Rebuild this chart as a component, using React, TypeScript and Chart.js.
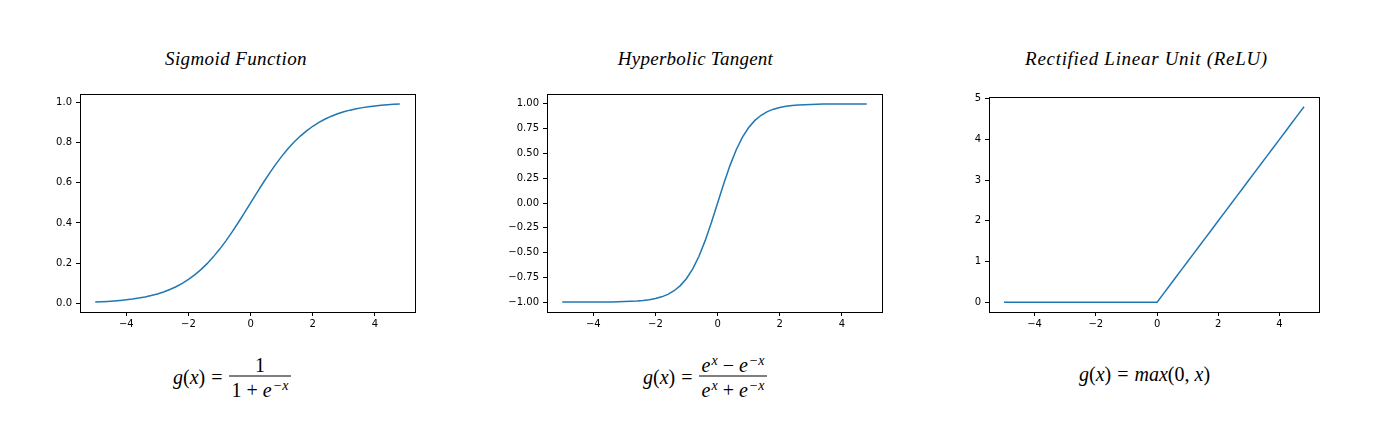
import React, { useEffect, useRef } from "react";
import { Chart, registerables } from "chart.js";

Chart.register(...registerables);

// ---------- data ----------
const xValues = [
  -5.0, -4.8, -4.6, -4.4, -4.2, -4.0, -3.8, -3.6, -3.4, -3.2,
  -3.0, -2.8, -2.6, -2.4, -2.2, -2.0, -1.8, -1.6, -1.4, -1.2,
  -1.0, -0.8, -0.6, -0.4, -0.2, 0.0, 0.2, 0.4, 0.6, 0.8,
  1.0, 1.2, 1.4, 1.6, 1.8, 2.0, 2.2, 2.4, 2.6, 2.8,
  3.0, 3.2, 3.4, 3.6, 3.8, 4.0, 4.2, 4.4, 4.6, 4.8,
];

const sigmoidValues = [
  0.00669, 0.00816, 0.00995, 0.01213, 0.01477, 0.01799, 0.02188, 0.0266, 0.0323, 0.03917,
  0.04743, 0.05732, 0.06914, 0.08317, 0.09975, 0.1192, 0.14185, 0.16798, 0.19782, 0.23148,
  0.26894, 0.31003, 0.35434, 0.40131, 0.45017, 0.5, 0.54983, 0.59869, 0.64566, 0.68997,
  0.73106, 0.76852, 0.80218, 0.83202, 0.85815, 0.8808, 0.90025, 0.91683, 0.93086, 0.94268,
  0.95257, 0.96083, 0.9677, 0.9734, 0.97812, 0.98201, 0.98523, 0.98787, 0.99005, 0.99184,
];

const tanhValues = [
  -0.99991, -0.99986, -0.9998, -0.9997, -0.99955, -0.99933, -0.999, -0.99851, -0.99777, -0.99668,
  -0.99505, -0.99263, -0.98903, -0.98367, -0.97574, -0.96403, -0.94681, -0.92167, -0.88535, -0.83365,
  -0.76159, -0.66404, -0.53705, -0.37995, -0.19738, 0.0, 0.19738, 0.37995, 0.53705, 0.66404,
  0.76159, 0.83365, 0.88535, 0.92167, 0.94681, 0.96403, 0.97574, 0.98367, 0.98903, 0.99263,
  0.99505, 0.99668, 0.99777, 0.99851, 0.999, 0.99933, 0.99955, 0.9997, 0.9998, 0.99986,
];

const reluValues = [
  0, 0, 0, 0, 0, 0, 0, 0, 0, 0,
  0, 0, 0, 0, 0, 0, 0, 0, 0, 0,
  0, 0, 0, 0, 0, 0, 0.2, 0.4, 0.6, 0.8,
  1.0, 1.2, 1.4, 1.6, 1.8, 2.0, 2.2, 2.4, 2.6, 2.8,
  3.0, 3.2, 3.4, 3.6, 3.8, 4.0, 4.2, 4.4, 4.6, 4.8,
];

const xTicks = [-4, -2, 0, 2, 4];
const sigmoidTicks = [0, 0.2, 0.4, 0.6, 0.8, 1.0];
const tanhTicks = [-1, -0.75, -0.5, -0.25, 0, 0.25, 0.5, 0.75, 1.0];
const reluTicks = [0, 1, 2, 3, 4, 5];

const titles = ["Sigmoid Function", "Hyperbolic Tangent", "Rectified Linear Unit (ReLU)"];

const LINE_COLOR = "#1f77b4";
const X_MIN = -5.49;
const X_MAX = 5.29;

const framePlugin = {
  id: "frame",
  afterDraw(chart: any) {
    const { ctx, chartArea } = chart;
    const { left, top, right, bottom } = chartArea;
    ctx.save();
    ctx.strokeStyle = "#000";
    ctx.lineWidth = 1;
    ctx.strokeRect(
      Math.round(left) + 0.5,
      Math.round(top) + 0.5,
      Math.round(right) - Math.round(left),
      Math.round(bottom) - Math.round(top)
    );
    ctx.restore();
  },
};

const fmt = (v: number, dec: number) => {
  let s = Number(v).toFixed(dec);
  if (Math.abs(v) < 1e-9) s = (0).toFixed(dec);
  return s.replace("-", "\u2212");
};

type PanelProps = {
  values: number[];
  yTicks: number[];
  yMin: number;
  yMax: number;
  dec: number;
  axLeft: number;
  axTop: number;
  axRight: number;
  axBottom: number;
};

const Y_AXIS_W = 60;
const X_AXIS_H = 30;
const PAD_TOP = 12;
const PAD_RIGHT = 12;

function Panel(p: PanelProps) {
  const ref = useRef<HTMLCanvasElement | null>(null);
  useEffect(() => {
    if (!ref.current) return;
    const data = xValues.map((x, i) => ({ x, y: p.values[i] }));
    const tickFont = { family: "'DejaVu Sans', sans-serif", size: 10 };
    const chart = new Chart(ref.current, {
      type: "line",
      data: {
        datasets: [
          {
            data,
            borderColor: LINE_COLOR,
            borderWidth: 1.5,
            pointRadius: 0,
            tension: 0,
            fill: false,
          },
        ],
      },
      options: {
        animation: false,
        responsive: true,
        maintainAspectRatio: false,
        layout: { padding: { top: PAD_TOP, right: PAD_RIGHT, left: 0, bottom: 0 } },
        plugins: { legend: { display: false }, tooltip: { enabled: false }, title: { display: false } },
        scales: {
          x: {
            type: "linear",
            min: X_MIN,
            max: X_MAX,
            afterBuildTicks: (scale: any) => {
              scale.ticks = xTicks.map((v) => ({ value: v }));
            },
            afterFit: (scale: any) => {
              scale.height = X_AXIS_H;
            },
            ticks: {
              font: tickFont,
              color: "#000",
              padding: 2,
              maxRotation: 0,
              autoSkip: false,
              callback: (v: any) => fmt(Number(v), 0),
            },
            grid: { drawOnChartArea: false, drawTicks: true, tickLength: 4, tickColor: "#000", lineWidth: 1 },
            border: { display: false },
          },
          y: {
            type: "linear",
            min: p.yMin,
            max: p.yMax,
            afterBuildTicks: (scale: any) => {
              scale.ticks = p.yTicks.map((v) => ({ value: v }));
            },
            afterFit: (scale: any) => {
              scale.width = Y_AXIS_W;
            },
            ticks: {
              font: tickFont,
              color: "#000",
              padding: 4,
              autoSkip: false,
              callback: (v: any) => fmt(Number(v), p.dec),
            },
            grid: { drawOnChartArea: false, drawTicks: true, tickLength: 4, tickColor: "#000", lineWidth: 1 },
            border: { display: false },
          },
        },
      },
      plugins: [framePlugin],
    } as any);
    return () => chart.destroy();
  }, []);

  const w = p.axRight - p.axLeft + Y_AXIS_W + PAD_RIGHT;
  const h = p.axBottom - p.axTop + PAD_TOP + X_AXIS_H;
  return (
    <div
      style={{
        position: "absolute",
        left: p.axLeft - Y_AXIS_W,
        top: p.axTop - PAD_TOP,
        width: w,
        height: h,
      }}
    >
      <canvas ref={ref} />
    </div>
  );
}

const mathFont = "'Liberation Serif', 'Times New Roman', serif";
const I = ({ children }: { children: any }) => <span style={{ fontStyle: "italic" }}>{children}</span>;
const Sup = ({ children }: { children: any }) => (
  <span style={{ fontSize: "0.7em", position: "relative", top: "-0.5em", fontStyle: "italic", marginLeft: 1 }}>{children}</span>
);

function Title({ text, cx, cy, spacing }: { text: string; cx: number; cy: number; spacing: number }) {
  return (
    <div
      style={{
        position: "absolute",
        left: cx,
        top: cy,
        transform: "translate(-50%, -50%)",
        fontFamily: mathFont,
        fontStyle: "italic",
        fontSize: 19,
        letterSpacing: spacing,
        lineHeight: 1,
        whiteSpace: "nowrap",
        color: "#000",
      }}
    >
      {text}
    </div>
  );
}

const Lhs = () => (
  <span style={{ whiteSpace: "nowrap" }}>
    <I>g</I>(<I>x</I>)<span style={{ margin: "0 6px" }}>=</span>
  </span>
);

function Fraction({ num, den }: { num: any; den: any }) {
  return (
    <span style={{ display: "inline-flex", flexDirection: "column", alignItems: "center" }}>
      <span style={{ height: 22, lineHeight: "22px", padding: "0 3px", whiteSpace: "nowrap" }}>{num}</span>
      <span style={{ alignSelf: "stretch", height: 1, background: "#000" }} />
      <span style={{ height: 22, lineHeight: "26px", padding: "0 3px", whiteSpace: "nowrap" }}>{den}</span>
    </span>
  );
}

function Formula({ left, cy, children }: { left: number; cy: number; children: any }) {
  return (
    <div
      style={{
        position: "absolute",
        left,
        top: cy,
        transform: "translateY(-50%)",
        display: "flex",
        alignItems: "center",
        fontFamily: mathFont,
        fontSize: 20,
        lineHeight: 1,
        color: "#000",
        whiteSpace: "nowrap",
      }}
    >
      {children}
    </div>
  );
}

export default function App() {
  return (
    <div
      style={{
        position: "absolute",
        left: 0,
        top: 0,
        width: 1376,
        height: 447,
        background: "#fff",
        overflow: "hidden",
      }}
    >
      <Title text={titles[0]} cx={236} cy={58} spacing={0.4} />
      <Title text={titles[1]} cx={695.5} cy={58} spacing={0.25} />
      <Title text={titles[2]} cx={1146.5} cy={58} spacing={0.7} />

      <Panel values={sigmoidValues} yTicks={sigmoidTicks} yMin={-0.0425} yMax={1.0411} dec={1} axLeft={80} axTop={94} axRight={415} axBottom={312} />
      <Panel values={tanhValues} yTicks={tanhTicks} yMin={-1.0999} yMax={1.0999} dec={2} axLeft={547} axTop={94} axRight={882} axBottom={312} />
      <Panel values={reluValues} yTicks={reluTicks} yMin={-0.24} yMax={5.04} dec={0} axLeft={989} axTop={97} axRight={1319} axBottom={312} />

      <Formula left={173} cy={376}>
        <Lhs />
        <Fraction num={<span>1</span>} den={<span>1 + <I>e</I><Sup>{"\u2212x"}</Sup></span>} />
      </Formula>
      <Formula left={643} cy={376}>
        <Lhs />
        <Fraction
          num={<span><I>e</I><Sup>x</Sup> {"\u2212"} <I>e</I><Sup>{"\u2212x"}</Sup></span>}
          den={<span><I>e</I><Sup>x</Sup> + <I>e</I><Sup>{"\u2212x"}</Sup></span>}
        />
      </Formula>
      <Formula left={1079} cy={374}>
        <Lhs />
        <span>
          <I>max</I>(0, <I>x</I>)
        </span>
      </Formula>
    </div>
  );
}
